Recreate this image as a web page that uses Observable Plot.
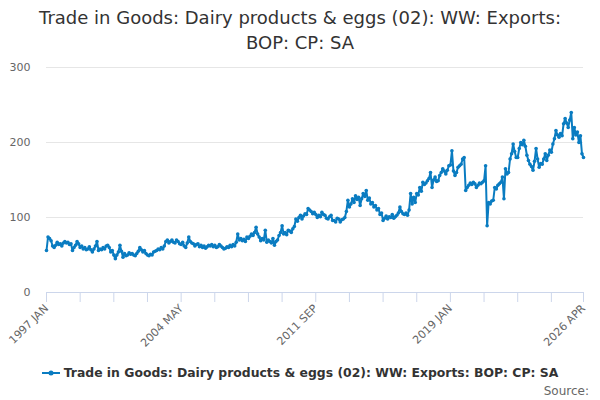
<!DOCTYPE html>
<html>
<head>
<meta charset="utf-8">
<script src="https://cdn.jsdelivr.net/npm/d3@7"></script>
<script src="https://cdn.jsdelivr.net/npm/@observablehq/plot@0.6"></script>
<style>
  html, body { margin: 0; padding: 0; background: #fff; }
  #wrap { position: relative; width: 600px; height: 400px; font-family: "DejaVu Sans", sans-serif; overflow: hidden; }
  #title { position: absolute; top: 5px; left: 0; width: 600px; text-align: center; font-size: 18px; line-height: 25px; color: #333; }
  #chart { position: absolute; top: 50px; left: 0; }
  #legend { position: absolute; top: 365px; left: 0; width: 600px; text-align: center; font-size: 12.4px; font-weight: bold; color: #333; white-space: nowrap; }
  #legend svg { vertical-align: -1px; margin-right: 4px; }
  #source { position: absolute; top: 384px; right: 11px; font-size: 12px; color: #666; }
</style>
</head>
<body>
<div id="wrap">
  <div id="title"></div>
  <div id="chart"></div>
  <div id="legend"></div>
  <div id="source">Source:</div>
</div>
<script>
const titleLines = ["Trade in Goods: Dairy products & eggs (02): WW: Exports:", "BOP: CP: SA"];
const seriesName = "Trade in Goods: Dairy products & eggs (02): WW: Exports: BOP: CP: SA";
const startYear = 1997;
const monthNames = ["JAN","FEB","MAR","APR","MAY","JUN","JUL","AUG","SEP","OCT","NOV","DEC"];

// Monthly values, 1997 JAN .. 2026 APR
const values = [
  56, 74, 72, 69, 62, 60, 63, 67, 64, 65, 62, 66,      // 1997
  68, 66, 67, 64, 65, 56, 60, 63, 68, 65, 60, 62,      // 1998
  58, 60, 57, 58, 61, 57, 54, 58, 62, 68, 56, 58,      // 1999
  57, 60, 58, 62, 63, 60, 54, 56, 50, 45, 50, 54,      // 2000
  63, 55, 47, 52, 49, 50, 53, 51, 52, 50, 49, 52,      // 2001
  55, 60, 57, 54, 56, 52, 50, 49, 51, 50, 54, 55,      // 2002
  56, 58, 57, 60, 58, 62, 68, 70, 66, 68, 70, 67,      // 2003
  66, 70, 68, 65, 64, 67, 62, 60, 66, 74, 68, 66,      // 2004
  65, 62, 64, 65, 61, 63, 60, 62, 59, 61, 63, 62,      // 2005
  64, 61, 63, 60, 61, 64, 62, 60, 58, 59, 61, 60,      // 2006
  63, 61, 64, 62, 67, 78, 70, 72, 69, 71, 68, 74,      // 2007
  72, 75, 78, 76, 80, 87, 78, 74, 69, 72, 70, 83,      // 2008
  67, 70, 68, 66, 72, 63, 68, 70, 76, 80, 89, 78,      // 2009
  80, 77, 83, 82, 80, 85, 88, 98, 95, 100, 103, 98,    // 2010
  102, 105, 104, 112, 110, 108, 105, 107, 104, 100, 103, 101, // 2011
  107, 104, 103, 99, 98, 101, 103, 96, 96, 94, 99, 98, // 2012
  94, 97, 98, 100, 108, 123, 114, 118, 125, 120, 129, 124, // 2013
  127, 116, 125, 132, 128, 136, 123, 126, 118, 120, 114, 116, // 2014
  110, 112, 104, 106, 96, 99, 102, 98, 101, 100, 104, 99, // 2015
  101, 103, 106, 114, 108, 105, 104, 106, 103, 110, 132, 118, // 2016
  127, 120, 132, 130, 140, 135, 147, 144, 146, 149, 152, 160, // 2017
  140, 150, 154, 148, 149, 156, 160, 165, 162, 158, 163, 169, // 2018
  170, 189, 162, 156, 160, 167, 169, 171, 178, 180, 136, 140, // 2019
  143, 146, 144, 147, 145, 140, 143, 146, 145, 147, 149, 169, // 2020
  89, 120, 118, 122, 123, 140, 138, 143, 145, 147, 154, 125,  // 2021
  165, 158, 160, 178, 185, 198, 188, 180, 180, 192, 200, 197, // 2022
  203, 195, 183, 176, 171, 168, 163, 175, 192, 178, 167, 172, // 2023
  171, 178, 185, 176, 183, 190, 187, 198, 205, 216, 210, 207, // 2024
  212, 209, 225, 232, 226, 220, 230, 240, 205, 220, 210, 214, // 2025
  200, 209, 185, 180                                         // 2026
];

const tickIndex = [0, 22, 44, 66, 88, 110, 132, 154, 176, 198, 220, 242, 264, 286, 308, 330, 351];
const labelIndex = [0, 88, 176, 264, 351];
const tickLabels = ["1997 JAN", "2004 MAY", "2011 SEP", "2019 JAN", "2026 APR"];
const yTicks = [0, 100, 200, 300];

const lineColor = "#0a7cc1";

const data = values.map((v, i) => ({
  i, v,
  label: `${startYear + Math.floor(i / 12)} ${monthNames[i % 12]}`
}));

document.getElementById("title").innerHTML = titleLines.map(t => t.replace(/&/g, "&amp;")).join("<br>");

const chart = Plot.plot({
  width: 600,
  height: 300,
  marginTop: 17,
  marginBottom: 58,
  marginLeft: 46,
  marginRight: 17,
  style: { fontFamily: "DejaVu Sans, sans-serif", fontSize: "11px", color: "#666", background: "transparent", overflow: "visible" },
  x: { type: "linear", domain: [0, values.length - 1] },
  y: { domain: [0, 300] },
  marks: [
    Plot.gridY(yTicks.filter(d => d > 0), { stroke: "#e6e6e6", strokeOpacity: 1 }),
    Plot.axisY(yTicks, { tickSize: 0, tickPadding: 16, label: null, fill: "#666" }),
    Plot.ruleY([0], { stroke: "#ccd6eb", strokeWidth: 1 }),
    Plot.axisX(tickIndex, {
      tickSize: 10,
      stroke: "#ccd6eb",
      strokeOpacity: 1,
      tickRotate: -45,
      tickPadding: 4,
      label: null,
      fill: "#666",
      tickFormat: d => {
        const k = labelIndex.indexOf(d);
        return k >= 0 ? tickLabels[k] : "";
      }
    }),
    Plot.line(data, { x: "i", y: "v", stroke: lineColor, strokeWidth: 2 }),
    Plot.dot(data, { x: "i", y: "v", r: 1.8, fill: lineColor, stroke: null })
  ]
});
document.getElementById("chart").appendChild(chart);

const legend = document.getElementById("legend");
legend.innerHTML =
  `<svg width="18" height="10"><line x1="0" y1="5" x2="18" y2="5" stroke="${lineColor}" stroke-width="2"/><circle cx="9" cy="5" r="2.5" fill="${lineColor}"/></svg>` +
  seriesName.replace(/&/g, "&amp;");
</script>
</body>
</html>
